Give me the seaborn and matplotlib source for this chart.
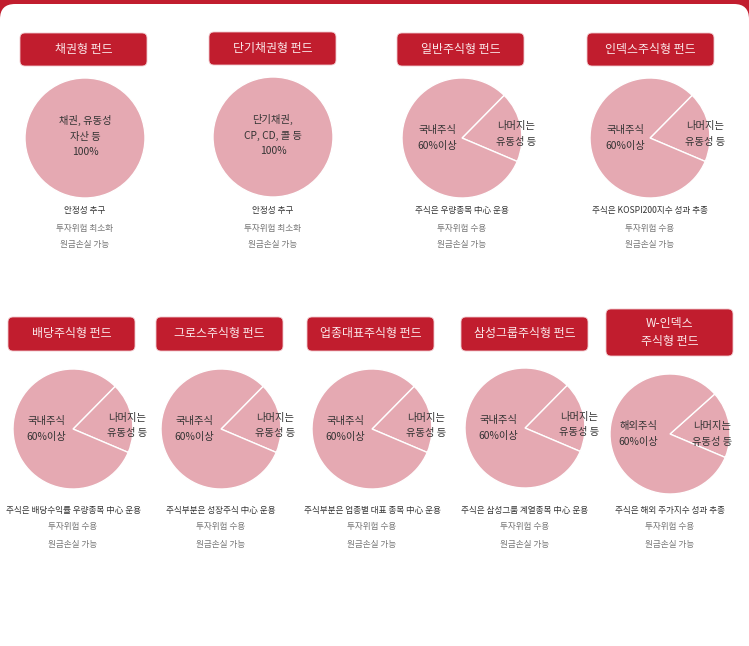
import numpy as np
import matplotlib
matplotlib.use("Agg")
import matplotlib.pyplot as plt
from matplotlib.patches import FancyBboxPatch
import seaborn as sns

sns.set_theme(style="white")
plt.rcParams['font.family'] = ['Noto Sans CJK KR', 'DejaVu Sans']

# 데이터
funds = ["채권형 펀드", "단기채권형 펀드", "일반주식형 펀드", "인덱스주식형 펀드",
         "배당주식형 펀드", "그로스주식형 펀드", "업종대표주식형 펀드",
         "삼성그룹주식형 펀드", "W-인덱스\n주식형 펀드"]
main_labels = ["채권, 유동성\n자산 등\n100%", "단기채권,\nCP, CD, 콜 등\n100%",
               "국내주식\n60%이상", "국내주식\n60%이상", "국내주식\n60%이상",
               "국내주식\n60%이상", "국내주식\n60%이상", "국내주식\n60%이상",
               "해외주식\n60%이상"]
rest_labels = [None, None] + ["나머지는\n유동성 등"] * 7
rest_share = [0, 0, 19, 19, 19, 19, 19, 19, 18]
main_share = [100, 100, 81, 81, 81, 81, 81, 81, 82]
desc_first = ["안정성 추구", "안정성 추구", "주식은 우량종목 中心 운용",
              "주식은 KOSPI200지수 성과 추종", "주식은 배당수익률 우량종목 中心 운용",
              "주식부분은 성장주식 中心 운용", "주식부분은 업종별 대표 종목 中心 운용",
              "주식은 삼성그룹 계열종목 中心 운용", "주식은 해외 주가지수 성과 추종"]
desc_risk = ["투자위험 최소화", "투자위험 최소화"] + ["투자위험 수용"] * 7
desc_loss = ["원금손실 가능"] * 9

# 레이아웃 (픽셀)
W, H = 749, 646
head_box = [(20, 33, 127, 33), (209, 32, 127, 33), (397, 33, 127, 33), (587, 33, 127, 33),
            (8, 317, 127, 34), (156, 317, 127, 34), (307, 317, 127, 34), (461, 317, 127, 34),
            (606, 309, 127, 47)]
pie_c = [(85, 138), (273, 137), (462, 138), (650, 138),
         (73, 429), (221, 429), (372, 429), (525, 428), (670, 434)]
R = 60
main_pos = [(0, 0.03), (0, 0.03), (-0.41, 0.0), (-0.41, 0.0), (-0.44, 0.0),
            (-0.44, 0.0), (-0.44, 0.0), (-0.44, 0.0), (-0.53, 0.0)]
rest_pos = [None, None, (0.9, 0.07), (0.92, 0.07), (0.91, 0.06),
            (0.9, 0.06), (0.9, 0.06), (0.9, 0.06), (0.7, 0.0)]
desc_y = [211, 211, 211, 211, 510, 510, 510, 510, 510]

RED = "#c11d2e"
PINK = "#e5a9b2"

fig = plt.figure(figsize=(W / 100, H / 100), dpi=100, facecolor=RED)
bg = fig.add_axes([0, 0, 1, 1])
bg.set_xlim(0, W)
bg.set_ylim(H, 0)
bg.axis("off")
bg.add_patch(FancyBboxPatch((0, 4), W, H + 40, boxstyle="round,pad=0,rounding_size=15",
                            fc="white", ec="none"))

for i, name in enumerate(funds):
    x0, y0, bw, bh = head_box[i]
    bg.add_patch(FancyBboxPatch((x0, y0), bw, bh, boxstyle="round,pad=0,rounding_size=5",
                                fc=RED, ec="#f0c8cc", lw=0.6))
    bg.text(x0 + bw / 2, y0 + bh / 2, name, ha="center", va="center", color="#fbe9eb",
            fontsize=8.6, linespacing=1.55)

    cx, cy = pie_c[i]
    bg.text(cx, desc_y[i], desc_first[i], ha="center", va="center", fontsize=6.2, color="#333333")
    bg.text(cx, desc_y[i] + 17, desc_risk[i], ha="center", va="center", fontsize=6.2, color="#767676")
    bg.text(cx, desc_y[i] + 34, desc_loss[i], ha="center", va="center", fontsize=6.2, color="#767676")

    ax = fig.add_axes([(cx - R) / W, 1 - (cy + R) / H, 2 * R / W, 2 * R / H])
    vals = [v for v in (rest_share[i], main_share[i]) if v > 0]
    ax.pie(vals, colors=[PINK] * len(vals), startangle=-23, counterclock=True,
           wedgeprops=dict(edgecolor="white", linewidth=1.0))
    ax.set_xlim(-1, 1)
    ax.set_ylim(-1, 1)
    ax.axis("off")
    mx, my = main_pos[i]
    ax.text(mx, my, main_labels[i], ha="center", va="center", fontsize=7.4,
            color="#333333", linespacing=1.7)
    if rest_labels[i]:
        rx, ry = rest_pos[i]
        ax.text(rx, ry, rest_labels[i], ha="center", va="center", fontsize=7.4,
                color="#333333", linespacing=1.7)

fig.savefig("out.png", dpi=100, facecolor=fig.get_facecolor())
